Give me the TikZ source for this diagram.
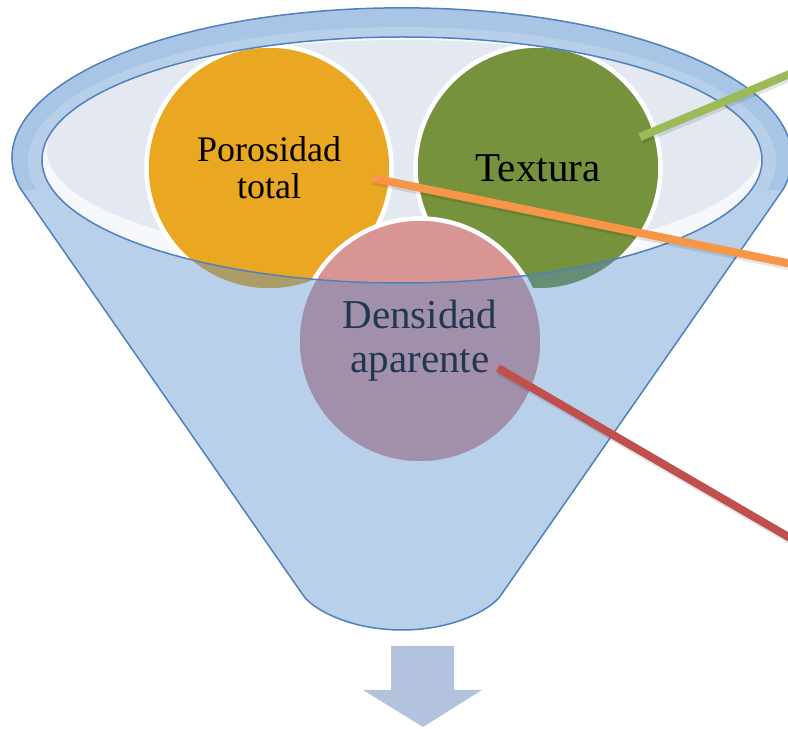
\documentclass[tikz,border=0pt]{standalone}
\usepackage{fontspec}
\setmainfont{Liberation Serif}
\definecolor{funnelblue}{RGB}{80,138,207}
\definecolor{edgeblue}{RGB}{79,129,189}
\definecolor{orangeC}{RGB}{234,168,34}
\definecolor{greenC}{RGB}{118,146,60}
\definecolor{pinkC}{RGB}{217,149,148}
\definecolor{backC}{RGB}{227,232,241}
\definecolor{arrowC}{RGB}{179,195,221}
\definecolor{lineG}{RGB}{155,187,89}
\definecolor{lineO}{RGB}{247,150,70}
\definecolor{lineR}{RGB}{192,80,77}
\definecolor{bgL}{RGB}{236,237,239}
\definecolor{bgR}{RGB}{242,243,245}
\pgfdeclarehorizontalshading{bgshade}{100bp}{color(0bp)=(bgL); color(16bp)=(white); color(84bp)=(white); color(100bp)=(bgR)}
\begin{document}
\begin{tikzpicture}[x=1pt,y=1pt,
  bubble/.style={circle, draw=white, line width=4.5pt, minimum size=245pt, inner sep=0pt, align=center, text=black},
  pointer/.style={line width=8pt},
  shadowline/.style={line width=9pt, black, opacity=0.10},
  rim/.style={edgeblue, line width=1.5pt, line join=round}
]
\useasboundingbox (0,0) rectangle (788,729);
\clip (0,0) rectangle (788,729);
\fill[shading=bgshade] (0,0) rectangle (788,729);

% back of funnel
\fill[white!70!backC] (402,569) ellipse [x radius=360, y radius=123];
\begin{scope}
  \clip (402,569) ellipse [x radius=360, y radius=123];
  \fill[backC] (404,579) ellipse [x radius=357, y radius=110];
\end{scope}

% circles
\node[bubble, fill=orangeC, font=\fontsize{36}{37}\selectfont] (poro) at (269,561) {Porosidad\\total};
\node[bubble, fill=greenC, font=\fontsize{41}{44}\selectfont] (text) at (538,561) {Textura};
\node[bubble, fill=pinkC, font=\fontsize{41}{44}\selectfont] (dens) at (420,388) {Densidad\\aparente};

% front face of the funnel
\fill[funnelblue, fill opacity=0.4, even odd rule]
  (20,541) arc[start angle=191.6, end angle=-11.6, x radius=390, y radius=150]
  -- (501,134) .. controls (492,120) and (454,99) .. (402,99)
  .. controls (350,99) and (312,120) .. (303,134) -- cycle
  (402,569) ellipse [x radius=360, y radius=123];
% rim ring
\begin{scope}
  \clip (0,539) rectangle (788,729);
  \fill[funnelblue, fill opacity=0.15, even odd rule]
    (402,571) ellipse [x radius=390, y radius=150]
    (402,569) ellipse [x radius=360, y radius=123];
  \fill[white, fill opacity=0.18, even odd rule]
    (402,568) ellipse [x radius=374, y radius=134]
    (402,569) ellipse [x radius=360, y radius=123];
\end{scope}
\draw[rim]
  (20,541) arc[start angle=191.6, end angle=-11.6, x radius=390, y radius=150]
  -- (501,134) .. controls (492,120) and (454,99) .. (402,99)
  .. controls (350,99) and (312,120) .. (303,134) -- cycle;
\draw[rim] (402,569) ellipse [x radius=360, y radius=123];

% pointers
\coordinate (gs) at (640,592); \coordinate (ge) at (792,656);
\coordinate (os) at (372,551); \coordinate (oe) at (792,465);
\coordinate (rs) at (498,361); \coordinate (re) at (792,190);
\draw[shadowline] ([shift={(1.5,-2.5)}]gs) -- ([shift={(1.5,-2.5)}]ge);
\draw[shadowline] ([shift={(1.5,-2.5)}]os) -- ([shift={(1.5,-2.5)}]oe);
\draw[shadowline] ([shift={(1.5,-2.5)}]rs) -- ([shift={(1.5,-2.5)}]re);
\draw[pointer, lineG] (gs) -- (ge);
\draw[pointer, lineO] (os) -- (oe);
\draw[pointer, lineR] (rs) -- (re);

% output arrow
\fill[arrowC] (391,83) -- (454,83) -- (454,39) -- (482,39) -- (423,2) -- (363,39) -- (391,39) -- cycle;
\end{tikzpicture}
\end{document}
